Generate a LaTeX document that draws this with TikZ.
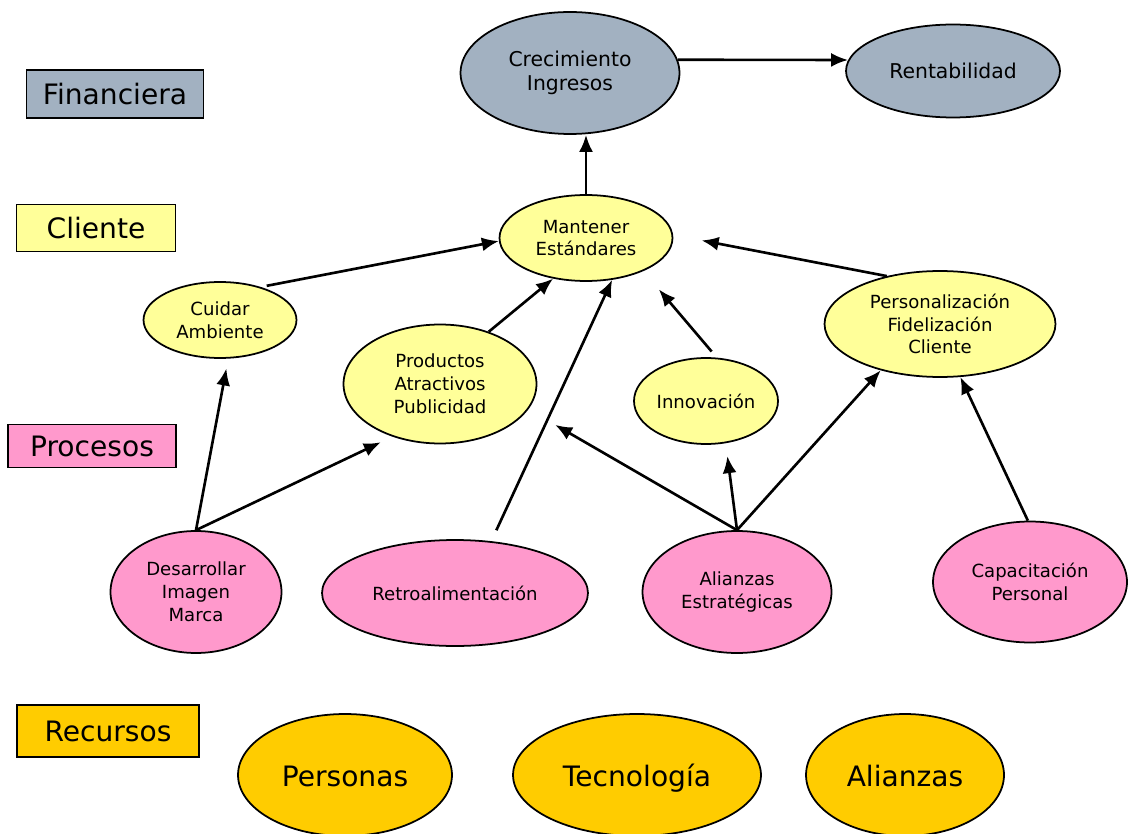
\documentclass[tikz,border=0pt]{standalone}
\usepackage{fontspec}
\setmainfont{DejaVu Sans}
\usetikzlibrary{positioning,arrows.meta,shapes.geometric}
\definecolor{gris}{RGB}{162,177,193}
\definecolor{amarillo}{RGB}{255,255,153}
\definecolor{rosa}{RGB}{255,153,204}
\definecolor{oro}{RGB}{255,204,0}
\tikzset{%
  perspectiva/.style={draw, rectangle, line width=1.1pt, inner sep=0pt, font=\fontsize{16}{19}\selectfont},% row labels
  objetivo/.style={draw, ellipse, line width=1pt, inner sep=0pt, align=center, font=\fontsize{10.3}{13}\selectfont},
  financiero/.style={objetivo, fill=gris, font=\fontsize{11.6}{14}\selectfont},
  recurso/.style={objetivo, fill=oro, text height=17pt, text depth=4pt, font=\fontsize{16}{19}\selectfont},
  flecha/.style={line width=1.5pt, -{Latex[length=0.34cm, width=0.28cm]}}
}

\begin{document}
\begin{tikzpicture}[x=0.02cm, y=-0.02cm]
\useasboundingbox (0,0) rectangle (1128,834);

% perspectivas
\node[perspectiva, fill=gris, minimum width=3.54cm, minimum height=0.96cm] (fin) at (115,94) {Financiera};
\node[perspectiva, fill=amarillo, minimum width=3.18cm, minimum height=0.94cm] (cli) at (96,228) {Cliente};
\node[perspectiva, fill=rosa, minimum width=3.36cm, minimum height=0.86cm] (pro) at (92,446) {Procesos};
\node[perspectiva, fill=oro, minimum width=3.64cm, minimum height=1.04cm] (rec) at (108,731) {Recursos};

% objetivos
\node[financiero, minimum width=4.38cm, minimum height=2.44cm] (crec) at (570,73) {Crecimiento\\Ingresos};
\node[financiero, minimum width=4.28cm, minimum height=1.86cm] (rent) at (953,71) {Rentabilidad};
\node[objetivo, fill=amarillo, minimum width=3.46cm, minimum height=1.72cm] (mant) at (586,238) {Mantener\\Estándares};
\node[objetivo, fill=amarillo, minimum width=3.06cm, minimum height=1.52cm] (cuid) at (220,320) {Cuidar\\Ambiente};
\node[objetivo, fill=amarillo, minimum width=3.86cm, minimum height=2.38cm] (prod) at (440,384) {Productos\\Atractivos\\Publicidad};
\node[objetivo, fill=amarillo, minimum width=2.88cm, minimum height=1.72cm] (innov) at (706,401) {Innovación};
\node[objetivo, fill=amarillo, minimum width=4.62cm, minimum height=2.12cm] (pers) at (940,324) {Personalización\\Fidelización\\Cliente};
\node[objetivo, fill=rosa, minimum width=3.42cm, minimum height=2.44cm] (desa) at (196,592) {Desarrollar\\Imagen\\Marca};
\node[objetivo, fill=rosa, minimum width=5.32cm, minimum height=2.12cm] (retro) at (455,593) {Retroalimentación};
\node[objetivo, fill=rosa, minimum width=3.78cm, minimum height=2.44cm] (alia) at (737,592) {Alianzas\\Estratégicas};
\node[objetivo, fill=rosa, minimum width=3.88cm, minimum height=2.42cm] (capa) at (1030,582) {Capacitación\\Personal};

% recursos
\node[recurso, minimum width=4.28cm, minimum height=2.44cm] (persn) at (345,775) {Personas};
\node[recurso, minimum width=4.96cm, minimum height=2.44cm] (tecn) at (637,775) {Tecnología};
\node[recurso, minimum width=3.96cm, minimum height=2.44cm] (alir) at (905,775) {Alianzas};

% relaciones
\draw[flecha] (crec.7) -- (rent.174);
\draw[flecha] (mant.north) -- (mant.north |- crec.south);
\draw[flecha, shorten <=0.12cm] (cuid.39) -- (mant.182);
\draw[flecha] (prod.47) -- (mant.231);
\draw[flecha, shorten <=0.24cm] (retro.55) -- (mant.302);
\draw[flecha, shorten <=0.16cm, shorten >=0.48cm] (innov.76) -- (mant.330);
\draw[flecha, shorten >=0.58cm] (pers.138) -- (mant.2);
\draw[flecha, shorten >=0.2cm] (desa.north) -- (cuid.282);
\draw[flecha, shorten >=0.26cm] (desa.north) -- (prod.228);
\draw[flecha, shorten >=0.62cm] (alia.north) -- (prod.344);
\draw[flecha, shorten >=0.26cm] (alia.north) -- (innov.295);
\draw[flecha] (alia.north) -- (pers.218);
\draw[flecha] (capa.92) -- (pers.291);
\end{tikzpicture}
\end{document}
